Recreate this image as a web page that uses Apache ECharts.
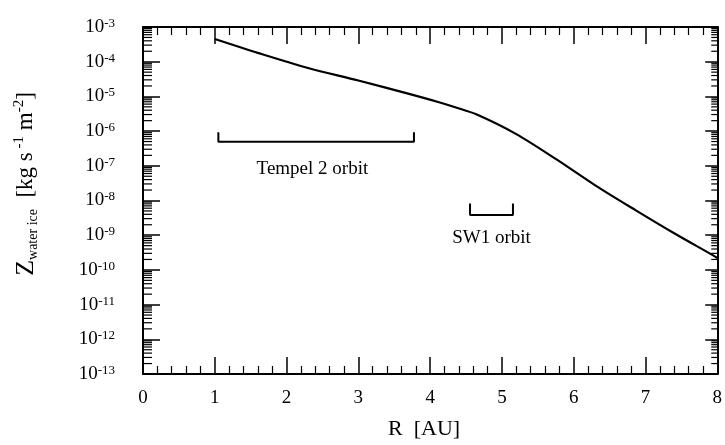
<!DOCTYPE html>
<html>
<head>
<meta charset="utf-8">
<script src="https://cdn.jsdelivr.net/npm/echarts@6/dist/echarts.min.js"></script>
<style>html,body{margin:0;padding:0;background:#fff;}#c{width:725px;height:445px;}</style>
</head>
<body>
<div id="c"></div>
<script>
// ---- data ----
const curveR = [1.0, 1.61, 2.3, 3.0, 3.68, 4.1, 4.35, 4.65, 5.2, 5.75, 6.3, 6.86, 7.4, 7.96, 8.0];
const curveZ = [4.5e-4, 1.77e-4, 6.6e-5, 2.87e-5, 1.22e-5, 7.0e-6, 4.85e-6, 3.0e-6, 8.2e-7, 1.58e-7, 2.74e-8, 5.3e-9, 1.14e-9, 2.5e-10, 2.2e-10];

const tempelBracketR = [1.05, 1.05, 3.775, 3.775];
const tempelBracketZ = [9.3e-7, 4.9e-7, 4.9e-7, 9.3e-7];
const sw1BracketR = [4.556, 4.556, 5.154, 5.154];
const sw1BracketZ = [8.2e-9, 3.8e-9, 3.8e-9, 8.2e-9];

const labelNames = ['Tempel 2 orbit', 'SW1 orbit'];
const labelR = [2.36, 4.855];
const labelZ = [8.2e-8, 8.2e-10];

const xMin = 0, xMax = 8;
const yMinExp = -13, yMaxExp = -3;
const minorMultipliers = [2, 3, 4, 5, 6, 7, 8, 9];

// ---- helpers ----
const zip = (a, b) => a.map((v, i) => [v, b[i]]);
const minorTickData = [];
for (let e = yMinExp; e < yMaxExp; e++) {
  minorMultipliers.forEach(m => minorTickData.push([xMin, m * Math.pow(10, e)]));
}
const FONT = '"Liberation Serif", "DejaVu Serif", serif';

const xAxisBase = {
  type: 'value', min: xMin, max: xMax, interval: 1,
  axisLine: { show: true, onZero: false, lineStyle: { color: '#000', width: 2 } },
  axisTick: { show: true, inside: true, length: 17, lineStyle: { color: '#000', width: 1.5 } },
  minorTick: { show: true, splitNumber: 5, length: 8, lineStyle: { color: '#000', width: 1.2 } },
  splitLine: { show: false }, minorSplitLine: { show: false }
};
const yAxisBase = {
  type: 'log', logBase: 10, min: Math.pow(10, yMinExp), max: Math.pow(10, yMaxExp), interval: 1,
  axisLine: { show: true, onZero: false, lineStyle: { color: '#000', width: 2 } },
  axisTick: { show: true, inside: true, length: 17, lineStyle: { color: '#000', width: 1.5 } },
  minorTick: { show: false },
  splitLine: { show: false }, minorSplitLine: { show: false }
};

const chart = echarts.init(document.getElementById('c'), null, { renderer: 'canvas' });
chart.setOption({
  animation: false,
  backgroundColor: '#fff',
  grid: { left: 143, top: 27, right: 2, bottom: 68, containLabel: false },
  xAxis: [
    Object.assign({}, xAxisBase, {
      position: 'bottom',
      axisLabel: { show: true, margin: 15, color: '#000', fontFamily: FONT, fontSize: 19 },
      name: 'R  [AU]', nameLocation: 'middle', nameGap: 44,
      nameTextStyle: { color: '#000', fontFamily: FONT, fontSize: 22, padding: [0, 12, 0, 0] }
    }),
    Object.assign({}, xAxisBase, { position: 'top', axisLabel: { show: false } })
  ],
  yAxis: [
    Object.assign({}, yAxisBase, {
      position: 'left',
      axisLabel: {
        show: true, margin: 28, color: '#000', fontFamily: FONT,
        formatter: v => '{b|10}{s|' + Math.round(Math.log10(v)) + '}',
        rich: {
          b: { fontFamily: FONT, fontSize: 19, color: '#000', lineHeight: 20 },
          s: { fontFamily: FONT, fontSize: 13, color: '#000', lineHeight: 10, verticalAlign: 'top' }
        }
      }
    }),
    Object.assign({}, yAxisBase, {
      position: 'right', axisLabel: { show: false },
      axisTick: { show: true, inside: true, length: 12, lineStyle: { color: '#000', width: 1.5 } }
    })
  ],
  graphic: [{
    type: 'text', x: 26, y: 184, rotation: Math.PI / 2,
    style: {
      text: '{z|Z}{sub|water ice}{t|  [kg s}{sup| -1}{t| m}{sup|-2}{t|]}',
      align: 'center', verticalAlign: 'middle', fill: '#000',
      rich: {
        z: { fontFamily: FONT, fontSize: 26, fill: '#000', lineHeight: 28 },
        sub: { fontFamily: FONT, fontSize: 14, fill: '#000', lineHeight: 12, verticalAlign: 'bottom' },
        t: { fontFamily: FONT, fontSize: 23, fill: '#000', lineHeight: 28 },
        sup: { fontFamily: FONT, fontSize: 15, fill: '#000', lineHeight: 14, verticalAlign: 'top' }
      }
    }
  }],
  series: [
    {
      type: 'line', name: 'Z', xAxisIndex: 0, yAxisIndex: 0,
      data: zip(curveR, curveZ), smooth: 0.3, showSymbol: false, symbol: 'none',
      lineStyle: { color: '#000', width: 2.2 }, silent: true
    },
    {
      type: 'line', xAxisIndex: 0, yAxisIndex: 0, data: zip(tempelBracketR, tempelBracketZ),
      showSymbol: false, symbol: 'none', lineStyle: { color: '#000', width: 2 }, silent: true
    },
    {
      type: 'line', xAxisIndex: 0, yAxisIndex: 0, data: zip(sw1BracketR, sw1BracketZ),
      showSymbol: false, symbol: 'none', lineStyle: { color: '#000', width: 2 }, silent: true
    },
    {
      type: 'scatter', xAxisIndex: 0, yAxisIndex: 0, symbolSize: 0, silent: true,
      itemStyle: { opacity: 1 },
      data: labelNames.map((n, i) => ({ name: n, value: [labelR[i], labelZ[i]] })),
      label: { show: true, position: 'inside', formatter: '{b}', color: '#000', opacity: 1, fontFamily: FONT, fontSize: 19 }
    },
    {
      type: 'custom', xAxisIndex: 0, yAxisIndex: 0, silent: true, clip: false,
      data: minorTickData,
      encode: { x: 0, y: 1 },
      renderItem: (params, api) => {
        const v = api.value(1);
        const pL = api.coord([xMin, v]);
        const pR = api.coord([xMax, v]);
        return {
          type: 'group',
          children: [
            { type: 'line', shape: { x1: pL[0], y1: pL[1], x2: pL[0] + 9, y2: pL[1] }, style: { stroke: '#000', lineWidth: 1.2 } },
            { type: 'line', shape: { x1: pR[0] - 6, y1: pR[1], x2: pR[0], y2: pR[1] }, style: { stroke: '#000', lineWidth: 1.2 } }
          ]
        };
      }
    }
  ]
});
</script>
</body>
</html>
